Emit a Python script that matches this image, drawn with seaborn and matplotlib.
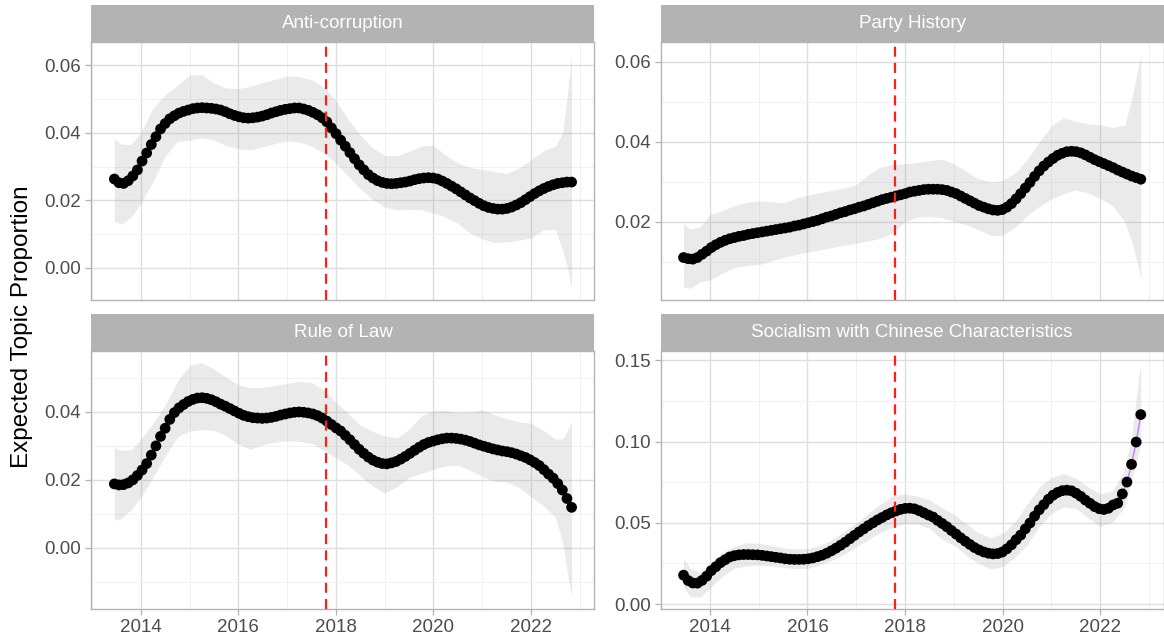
# ── Imports ──────────────────────────────────────────────────────────────────
import numpy as np
import pandas as pd
import matplotlib
matplotlib.use("Agg")
import matplotlib.pyplot as plt
import seaborn as sns
from matplotlib.ticker import MultipleLocator, FormatStrFormatter

# ── Data ─────────────────────────────────────────────────────────────────────
TOPICS = [
    "Anti-corruption", "Party History",
    "Rule of Law", "Socialism with Chinese Characteristics",
]
LINE_COLORS = ["#F8766D", "#7CAE00", "#00BFC4", "#C77CFF"]
CONGRESS_DATE = 2017.79          # red dashed line (19th Party Congress)

# 100 evaluation dates of the smoothed estimate
FIRST_DATE, LAST_DATE, N_POINTS = 2013.46, 2022.83, 100
dates = np.linspace(FIRST_DATE, LAST_DATE, N_POINTS)

anti_corruption = [
    0.0263, 0.0252, 0.0250, 0.0258, 0.0272, 0.0290, 0.0316, 0.0340, 0.0365, 0.0388,
    0.0411, 0.0427, 0.0441, 0.0450, 0.0458, 0.0463, 0.0467, 0.0471, 0.0473, 0.0474,
    0.0473, 0.0472, 0.0470, 0.0467, 0.0462, 0.0456, 0.0451, 0.0447, 0.0444, 0.0443,
    0.0444, 0.0446, 0.0449, 0.0453, 0.0458, 0.0462, 0.0466, 0.0469, 0.0471, 0.0473,
    0.0473, 0.0470, 0.0466, 0.0460, 0.0453, 0.0444, 0.0432, 0.0414, 0.0397, 0.0378,
    0.0360, 0.0341, 0.0323, 0.0305, 0.0290, 0.0276, 0.0266, 0.0258, 0.0253, 0.0250,
    0.0249, 0.0250, 0.0252, 0.0254, 0.0257, 0.0261, 0.0264, 0.0266, 0.0267, 0.0266,
    0.0263, 0.0257, 0.0250, 0.0242, 0.0234, 0.0225, 0.0216, 0.0207, 0.0199, 0.0191,
    0.0184, 0.0179, 0.0176, 0.0174, 0.0174, 0.0176, 0.0180, 0.0186, 0.0193, 0.0202,
    0.0211, 0.0220, 0.0228, 0.0235, 0.0241, 0.0246, 0.0250, 0.0252, 0.0254, 0.0254,
]
party_history = [
    0.0110, 0.0107, 0.0106, 0.0110, 0.0118, 0.0126, 0.0135, 0.0142, 0.0148, 0.0153,
    0.0157, 0.0160, 0.0163, 0.0165, 0.0168, 0.0170, 0.0172, 0.0174, 0.0176, 0.0178,
    0.0180, 0.0182, 0.0184, 0.0186, 0.0189, 0.0191, 0.0194, 0.0197, 0.0200, 0.0203,
    0.0207, 0.0211, 0.0214, 0.0218, 0.0222, 0.0225, 0.0229, 0.0232, 0.0236, 0.0239,
    0.0243, 0.0247, 0.0251, 0.0255, 0.0258, 0.0261, 0.0264, 0.0267, 0.0270, 0.0274,
    0.0276, 0.0278, 0.0280, 0.0281, 0.0281, 0.0281, 0.0280, 0.0278, 0.0274, 0.0270,
    0.0264, 0.0258, 0.0252, 0.0246, 0.0240, 0.0236, 0.0232, 0.0229, 0.0228, 0.0230,
    0.0236, 0.0245, 0.0257, 0.0270, 0.0284, 0.0298, 0.0313, 0.0327, 0.0339, 0.0349,
    0.0358, 0.0366, 0.0371, 0.0375, 0.0376, 0.0375, 0.0372, 0.0367, 0.0361, 0.0355,
    0.0350, 0.0345, 0.0340, 0.0335, 0.0329, 0.0324, 0.0319, 0.0314, 0.0310, 0.0306,
]
rule_of_law = [
    0.0188, 0.0185, 0.0186, 0.0191, 0.0200, 0.0213, 0.0229, 0.0248, 0.0273, 0.0300,
    0.0328, 0.0352, 0.0378, 0.0398, 0.0412, 0.0422, 0.0431, 0.0437, 0.0441, 0.0442,
    0.0440, 0.0436, 0.0430, 0.0423, 0.0417, 0.0410, 0.0403, 0.0396, 0.0390, 0.0386,
    0.0383, 0.0382, 0.0381, 0.0382, 0.0384, 0.0387, 0.0391, 0.0394, 0.0397, 0.0399,
    0.0400, 0.0399, 0.0397, 0.0394, 0.0389, 0.0382, 0.0373, 0.0363, 0.0353, 0.0344,
    0.0331, 0.0318, 0.0304, 0.0290, 0.0278, 0.0267, 0.0258, 0.0252, 0.0248, 0.0247,
    0.0250, 0.0254, 0.0261, 0.0269, 0.0278, 0.0287, 0.0296, 0.0304, 0.0310, 0.0314,
    0.0318, 0.0321, 0.0323, 0.0323, 0.0322, 0.0320, 0.0317, 0.0313, 0.0308, 0.0303,
    0.0299, 0.0295, 0.0291, 0.0288, 0.0285, 0.0283, 0.0280, 0.0276, 0.0271, 0.0266,
    0.0259, 0.0251, 0.0242, 0.0230, 0.0217, 0.0205, 0.0189, 0.0170, 0.0145, 0.0119,
]
socialism_cc = [
    0.0178, 0.0145, 0.0130, 0.0129, 0.0146, 0.0172, 0.0206, 0.0230, 0.0255, 0.0273,
    0.0290, 0.0298, 0.0303, 0.0305, 0.0305, 0.0304, 0.0303, 0.0300, 0.0296, 0.0292,
    0.0288, 0.0284, 0.0279, 0.0276, 0.0275, 0.0275, 0.0276, 0.0279, 0.0284, 0.0292,
    0.0301, 0.0313, 0.0328, 0.0344, 0.0362, 0.0381, 0.0402, 0.0423, 0.0444, 0.0463,
    0.0483, 0.0500, 0.0518, 0.0533, 0.0549, 0.0562, 0.0573, 0.0583, 0.0589, 0.0590,
    0.0586, 0.0575, 0.0562, 0.0548, 0.0536, 0.0515, 0.0496, 0.0476, 0.0453, 0.0431,
    0.0408, 0.0387, 0.0367, 0.0348, 0.0333, 0.0321, 0.0313, 0.0309, 0.0311, 0.0320,
    0.0340, 0.0365, 0.0396, 0.0425, 0.0463, 0.0499, 0.0541, 0.0580, 0.0612, 0.0645,
    0.0670, 0.0687, 0.0698, 0.0701, 0.0697, 0.0682, 0.0663, 0.0640, 0.0620, 0.0600,
    0.0587, 0.0582, 0.0590, 0.0610, 0.0621, 0.0678, 0.0751, 0.0860, 0.0997, 0.1166,
]

# confidence band, sampled on a coarser date grid
band_dates = [
    2013.46, 2013.6, 2013.8, 2014.0, 2014.25, 2014.5, 2014.75, 2015.0, 2015.25, 2015.5,
    2015.75, 2016.0, 2016.25, 2016.5, 2016.75, 2017.0, 2017.25, 2017.5, 2017.75, 2018.0,
    2018.25, 2018.5, 2018.75, 2019.0, 2019.25, 2019.5, 2019.75, 2020.0, 2020.25, 2020.5,
    2020.75, 2021.0, 2021.25, 2021.5, 2021.75, 2022.0, 2022.25, 2022.5, 2022.65, 2022.75,
    2022.83,
]
anti_corruption_hi = [
    0.0383, 0.0366, 0.0365, 0.0400, 0.0472, 0.0512, 0.0540, 0.0570, 0.0572, 0.0547,
    0.0532, 0.0530, 0.0537, 0.0548, 0.0558, 0.0567, 0.0566, 0.0556, 0.0535, 0.0495,
    0.0440, 0.0393, 0.0355, 0.0333, 0.0332, 0.0345, 0.0360, 0.0363, 0.0333, 0.0310,
    0.0297, 0.0291, 0.0285, 0.0280, 0.0295, 0.0320, 0.0346, 0.0360, 0.0400, 0.0520,
    0.0632,
]
anti_corruption_lo = [
    0.0139, 0.0129, 0.0150, 0.0190, 0.0255, 0.0330, 0.0374, 0.0378, 0.0385, 0.0378,
    0.0362, 0.0353, 0.0349, 0.0358, 0.0368, 0.0376, 0.0372, 0.0360, 0.0340, 0.0310,
    0.0272, 0.0233, 0.0203, 0.0180, 0.0172, 0.0173, 0.0172, 0.0163, 0.0150, 0.0132,
    0.0103, 0.0086, 0.0075, 0.0077, 0.0082, 0.0089, 0.0112, 0.0114, 0.0050, 0.0000,
    -0.0060,
]
party_history_hi = [
    0.0194, 0.0181, 0.0187, 0.0217, 0.0227, 0.0240, 0.0248, 0.0252, 0.0250, 0.0247,
    0.0258, 0.0266, 0.0272, 0.0278, 0.0284, 0.0293, 0.0318, 0.0336, 0.0344, 0.0345,
    0.0348, 0.0353, 0.0356, 0.0345, 0.0326, 0.0307, 0.0300, 0.0303, 0.0321, 0.0355,
    0.0400, 0.0440, 0.0460, 0.0451, 0.0445, 0.0442, 0.0436, 0.0441, 0.0510, 0.0570,
    0.0619,
]
party_history_lo = [
    0.0036, 0.0033, 0.0049, 0.0054, 0.0070, 0.0085, 0.0090, 0.0092, 0.0101, 0.0110,
    0.0117, 0.0123, 0.0129, 0.0135, 0.0141, 0.0146, 0.0152, 0.0158, 0.0172, 0.0200,
    0.0211, 0.0213, 0.0209, 0.0201, 0.0192, 0.0180, 0.0166, 0.0165, 0.0186, 0.0214,
    0.0238, 0.0256, 0.0270, 0.0279, 0.0272, 0.0257, 0.0240, 0.0200, 0.0148, 0.0100,
    0.0057,
]
rule_of_law_hi = [
    0.0296, 0.0287, 0.0288, 0.0320, 0.0365, 0.0420, 0.0490, 0.0537, 0.0545, 0.0527,
    0.0503, 0.0480, 0.0472, 0.0473, 0.0478, 0.0484, 0.0490, 0.0487, 0.0465, 0.0428,
    0.0395, 0.0361, 0.0343, 0.0330, 0.0324, 0.0349, 0.0388, 0.0404, 0.0404, 0.0398,
    0.0400, 0.0406, 0.0392, 0.0380, 0.0371, 0.0367, 0.0346, 0.0320, 0.0322, 0.0345,
    0.0372,
]
rule_of_law_lo = [
    0.0081, 0.0086, 0.0112, 0.0148, 0.0207, 0.0270, 0.0326, 0.0344, 0.0348, 0.0346,
    0.0330, 0.0305, 0.0290, 0.0303, 0.0311, 0.0315, 0.0313, 0.0308, 0.0287, 0.0265,
    0.0243, 0.0212, 0.0182, 0.0160, 0.0180, 0.0207, 0.0219, 0.0232, 0.0241, 0.0243,
    0.0228, 0.0210, 0.0195, 0.0194, 0.0178, 0.0150, 0.0124, 0.0090, 0.0012, -0.0080,
    -0.0146,
]
socialism_cc_hi = [
    0.0279, 0.0220, 0.0196, 0.0250, 0.0315, 0.0355, 0.0378, 0.0375, 0.0362, 0.0346,
    0.0340, 0.0341, 0.0360, 0.0396, 0.0448, 0.0500, 0.0560, 0.0615, 0.0670, 0.0677,
    0.0664, 0.0641, 0.0593, 0.0552, 0.0495, 0.0440, 0.0408, 0.0435, 0.0505, 0.0616,
    0.0720, 0.0780, 0.0802, 0.0775, 0.0720, 0.0680, 0.0698, 0.0830, 0.1050, 0.1307,
    0.1485,
]
socialism_cc_lo = [
    0.0101, 0.0045, 0.0042, 0.0100, 0.0168, 0.0220, 0.0235, 0.0241, 0.0234, 0.0225,
    0.0218, 0.0220, 0.0240, 0.0270, 0.0306, 0.0352, 0.0398, 0.0442, 0.0475, 0.0495,
    0.0494, 0.0465, 0.0400, 0.0363, 0.0302, 0.0250, 0.0216, 0.0230, 0.0290, 0.0365,
    0.0478, 0.0560, 0.0598, 0.0590, 0.0530, 0.0478, 0.0505, 0.0597, 0.0770, 0.0880,
    0.0992,
]

means = [anti_corruption, party_history, rule_of_law, socialism_cc]
bands_lo = [anti_corruption_lo, party_history_lo, rule_of_law_lo, socialism_cc_lo]
bands_hi = [anti_corruption_hi, party_history_hi, rule_of_law_hi, socialism_cc_hi]
Y_STEPS = [0.02, 0.02, 0.02, 0.05]

# ── Style ────────────────────────────────────────────────────────────────────
sns.set_theme(style="whitegrid")
plt.rcParams["font.family"] = ["Liberation Sans", "DejaVu Sans"]

GRID_MAJOR = "#DEDEDE"
GRID_MINOR = "#EFEFEF"
BORDER     = "#B3B3B3"
STRIP_BG   = "#B3B3B3"
TICK_TEXT  = "#4D4D4D"

# panel boxes in figure fractions: left, bottom, width, height
PANELS = [
    (0.0786, 0.5320, 0.4321, 0.4017),
    (0.5676, 0.5320, 0.4321, 0.4017),
    (0.0786, 0.0499, 0.4321, 0.4025),
    (0.5676, 0.0499, 0.4321, 0.4025),
]
STRIP_H = 0.0580

fig = plt.figure(figsize=(11.64, 6.41), dpi=100)

x_pad = 0.05 * (LAST_DATE - FIRST_DATE)

for i, topic in enumerate(TOPICS):
    l, b, w, h = PANELS[i]
    ax = fig.add_axes([l, b, w, h])
    df = pd.DataFrame({"date": dates, "prop": means[i]})

    # confidence band, line and points
    ax.fill_between(band_dates, bands_lo[i], bands_hi[i],
                    color="#999999", alpha=0.2, lw=0, zorder=1)
    sns.lineplot(data=df, x="date", y="prop", color=LINE_COLORS[i],
                 lw=1.0, ax=ax, zorder=2)
    sns.scatterplot(data=df, x="date", y="prop", color="black", s=60,
                    edgecolor="none", ax=ax, zorder=3, legend=False)
    ax.axvline(CONGRESS_DATE, color="#FF2010", lw=1.6,
               ls=(0, (4.5, 2.8)), zorder=4)

    # scales: ggplot-style 5% expansion
    y_min = min(min(bands_lo[i]), min(means[i]))
    y_max = max(max(bands_hi[i]), max(means[i]))
    y_pad = 0.05 * (y_max - y_min)
    ax.set_ylim(y_min - y_pad, y_max + y_pad)
    ax.set_xlim(FIRST_DATE - x_pad, LAST_DATE + x_pad)

    ax.xaxis.set_major_locator(MultipleLocator(2))
    ax.xaxis.set_minor_locator(MultipleLocator(1))
    ax.yaxis.set_major_locator(MultipleLocator(Y_STEPS[i]))
    ax.yaxis.set_minor_locator(MultipleLocator(Y_STEPS[i] / 2))
    ax.yaxis.set_major_formatter(FormatStrFormatter("%.2f"))

    ax.set_facecolor("white")
    ax.set_axisbelow(True)
    ax.grid(which="major", color=GRID_MAJOR, lw=1.0)
    ax.grid(which="minor", color=GRID_MINOR, lw=0.6)
    for sp in ax.spines.values():
        sp.set_color(BORDER)
        sp.set_linewidth(1.0)
        sp.set_visible(True)

    ax.tick_params(which="major", length=4.3, width=0.9, color=BORDER,
                   labelsize=13.5, labelcolor=TICK_TEXT, pad=3,
                   left=True, bottom=True)
    ax.tick_params(which="minor", length=0)
    if i < 2:
        ax.tick_params(axis="x", which="major", bottom=False, labelbottom=False)
    ax.set_xlabel("")
    ax.set_ylabel("")

    # facet strip
    sax = fig.add_axes([l, b + h, w, STRIP_H])
    sax.set_facecolor(STRIP_BG)
    sax.set_xticks([])
    sax.set_yticks([])
    for sp in sax.spines.values():
        sp.set_visible(False)
    sax.text(0.5, 0.5, topic, ha="center", va="center",
             color="white", fontsize=13.5, transform=sax.transAxes)

fig.text(0.019, 0.49, "Expected Topic Proportion", rotation=90,
         ha="center", va="center", fontsize=17.5, color="black")

fig.savefig("out.png", dpi=100)
plt.close(fig)
